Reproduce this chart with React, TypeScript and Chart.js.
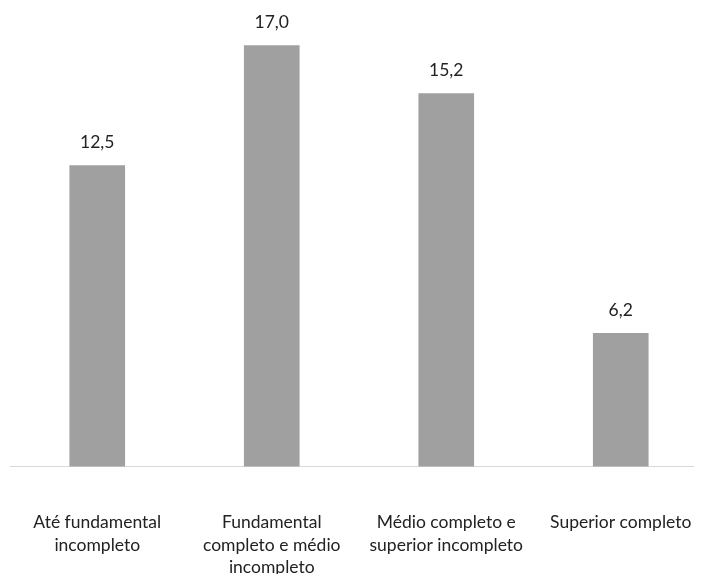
import React, { useEffect, useRef } from "react";
import { Chart, registerables } from "chart.js";

Chart.register(...registerables);

const categories: string[][] = [
  ["Até fundamental", "incompleto"],
  ["Fundamental", "completo e médio", "incompleto"],
  ["Médio completo e", "superior incompleto"],
  ["Superior completo"],
];
const values: number[] = [12.5, 17.0, 15.2, 6.2];
const yMin = 1.2;
const yMax = 18;

const FONT = "Lato, 'Open Sans', sans-serif";
const FONT_SIZE = 17.5;
const LINE_H = 22.5;
const TICK_PAD = 45;

const valueLabels = {
  id: "valueLabels",
  afterDatasetsDraw(chart: any) {
    const ctx = chart.ctx;
    const meta = chart.getDatasetMeta(0);
    ctx.save();
    ctx.font = `${FONT_SIZE}px ${FONT}`;
    ctx.fillStyle = "#222222";
    ctx.textAlign = "center";
    ctx.textBaseline = "middle";
    meta.data.forEach((bar: any, i: number) => {
      const txt = values[i].toFixed(1).replace(".", ",");
      ctx.fillText(txt, bar.x, bar.y - 23);
    });
    ctx.restore();
  },
};

export default function App() {
  const ref = useRef<HTMLCanvasElement>(null);
  useEffect(() => {
    if (!ref.current) return;
    const chart = new Chart(ref.current, {
      type: "bar",
      data: {
        labels: categories,
        datasets: [
          {
            data: values,
            backgroundColor: "#a0a0a0",
            barThickness: 55,
          },
        ],
      },
      options: {
        responsive: false,
        animation: false,
        layout: { padding: { left: 2, right: 0, top: 11, bottom: 0 } },
        plugins: { legend: { display: false }, tooltip: { enabled: false } },
        scales: {
          x: {
            grid: { display: false, drawTicks: false },
            border: { display: true, color: "#d9d9d9", width: 1 },
            ticks: {
              autoSkip: false,
              maxRotation: 0,
              minRotation: 0,
              padding: TICK_PAD,
              color: "#222222",
              font: { family: FONT, size: FONT_SIZE, lineHeight: LINE_H / FONT_SIZE },
            },
            afterFit(axis: any) {
              axis.paddingLeft = 0;
              axis.paddingRight = 0;
              axis.height = TICK_PAD + 3 * LINE_H;
            },
          },
          y: {
            display: false,
            min: yMin,
            max: yMax,
          },
        },
      },
      plugins: [valueLabels],
    });
    return () => chart.destroy();
  }, []);
  return (
    <div style={{ width: 694, height: 566, overflow: "hidden" }}>
      <canvas ref={ref} width={700} height={571} style={{ display: "block" }} />
    </div>
  );
}
